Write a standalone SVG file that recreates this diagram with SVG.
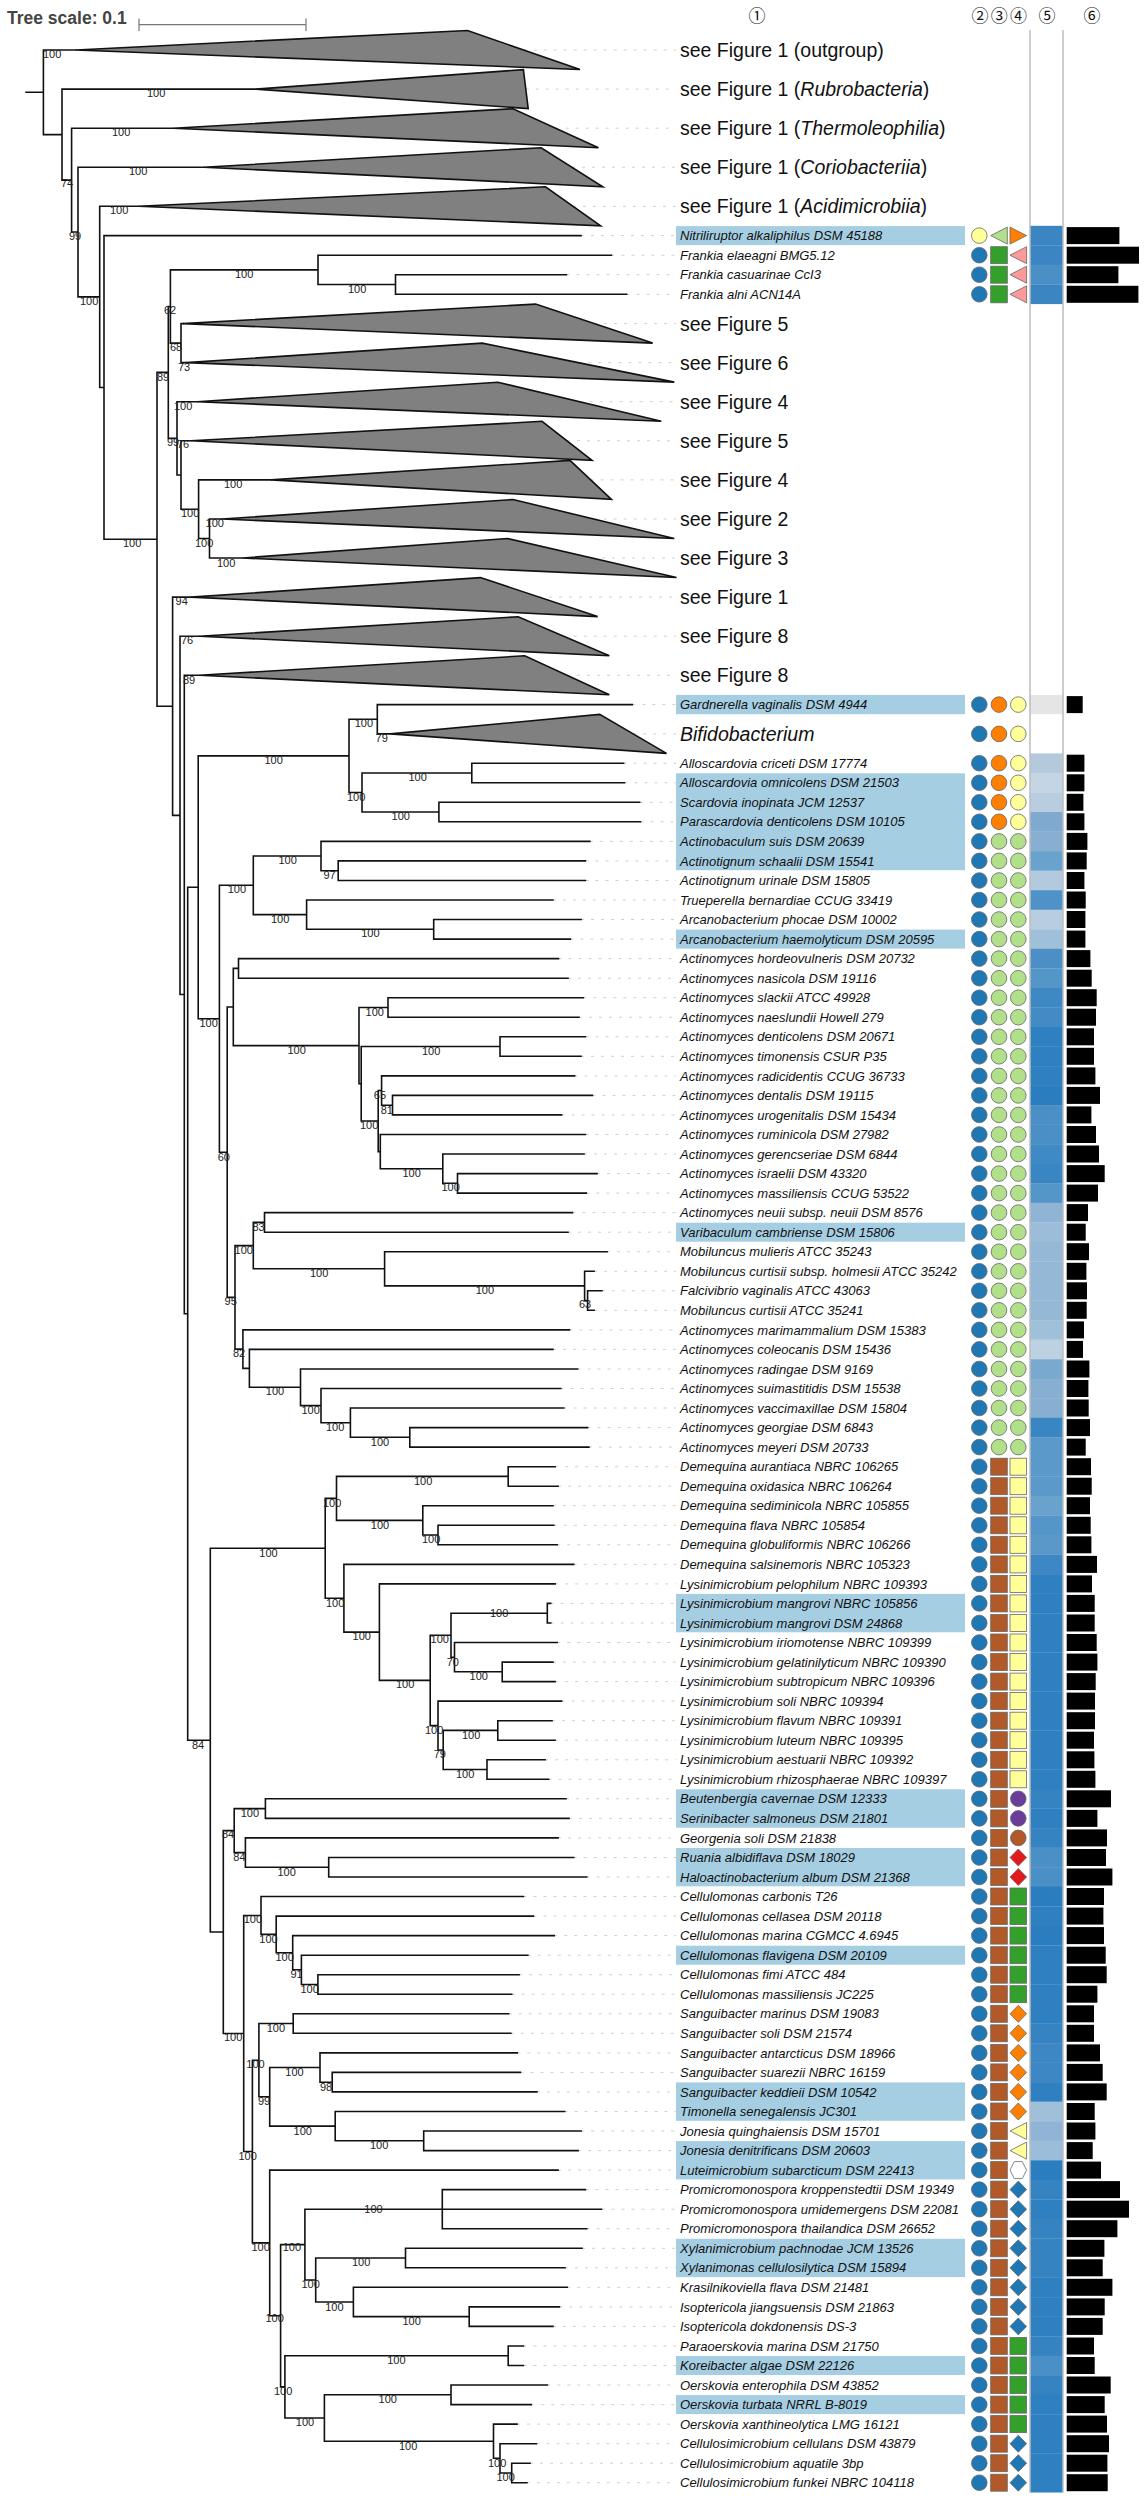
<svg xmlns="http://www.w3.org/2000/svg" width="1146" height="2500" viewBox="0 0 1146 2500">
<style>
.br{fill:none;stroke:#111;stroke-width:1.6;stroke-linecap:square}
.ld{fill:none;stroke:#cfcfcf;stroke-width:1;stroke-dasharray:3 7}
.tri{fill:#808080;stroke:#111;stroke-width:1.6}
.bs{font-family:"Liberation Sans",Arial,sans-serif;font-size:11px;fill:#222}
.lb{font-family:"Liberation Sans",Arial,sans-serif;font-size:13px;font-style:italic;fill:#111}
.big{font-family:"Liberation Sans",Arial,sans-serif;font-size:19.5px;fill:#111}
.hd{font-family:"Noto Sans CJK JP","DejaVu Sans",sans-serif;font-size:17px;fill:#111;text-anchor:middle}
.hl{fill:#a6cee3}
.bar{fill:#000}
.sym{stroke:#666;stroke-width:.8}
.sep{stroke:#bdbdbd;stroke-width:1.5}
</style>
<defs>
<circle id="cb" class="sym" r="7.8" fill="#1f78b4"/>
<circle id="co" class="sym" r="7.8" fill="#ff7f00"/>
<circle id="cy" class="sym" r="7.8" fill="#ffff99"/>
<circle id="cg" class="sym" r="7.8" fill="#b2df8a"/>
<circle id="cp" class="sym" r="7.8" fill="#6a3d9a"/>
<circle id="cbr" class="sym" r="7.8" fill="#b15928"/>
<rect id="sqbr" class="sym" x="-8.3" y="-8.5" width="16.6" height="17" fill="#b15928"/>
<rect id="sqy" class="sym" x="-8.3" y="-8.5" width="16.6" height="17" fill="#ffff99"/>
<rect id="sqg" class="sym" x="-8.3" y="-8.5" width="16.6" height="17" fill="#33a02c"/>
<polygon id="dr" class="sym" points="0,-8.5 8.3,0 0,8.5 -8.3,0" fill="#e31a1c"/>
<polygon id="do" class="sym" points="0,-8.5 8.3,0 0,8.5 -8.3,0" fill="#ff7f00"/>
<polygon id="db" class="sym" points="0,-8.5 8.3,0 0,8.5 -8.3,0" fill="#1f78b4"/>
<polygon id="tly" class="sym" points="-8.3,0 8.3,-8.5 8.3,8.5" fill="#ffff99"/>
<polygon id="tlg" class="sym" points="-8.3,0 8.3,-8.5 8.3,8.5" fill="#b2df8a"/>
<polygon id="tlp" class="sym" points="-8.3,0 8.3,-8.5 8.3,8.5" fill="#fb9a99"/>
<polygon id="tro" class="sym" points="-8.3,-8.5 8.3,0 -8.3,8.5" fill="#ff7f00"/>
<polygon id="hex" class="sym" points="-8.3,0 -4,-8.5 4,-8.5 8.3,0 4,8.5 -4,8.5" fill="#fff"/>
</defs>
<rect width="1146" height="2500" fill="#fff"/>

<g id="scale">
<text x="7" y="24" font-family="Liberation Sans, Arial, sans-serif" font-size="17.5" font-weight="bold" fill="#444">Tree scale: 0.1</text>
<path d="M139,18.5V31M139,24.7H306M306,18.5V31" stroke="#777" stroke-width="1.2" fill="none"/>
</g>

<g id="headers">
<text class="hd" x="757" y="22">①</text>
<text class="hd" x="980" y="22">②</text>
<text class="hd" x="999.3" y="22">③</text>
<text class="hd" x="1018.5" y="22">④</text>
<text class="hd" x="1047" y="22">⑤</text>
<text class="hd" x="1092" y="22">⑥</text>
</g>

<g id="highlights">
<rect class="hl" x="676" y="226.1" width="289" height="19"/>
<rect class="hl" x="676" y="694.9" width="289" height="19.3"/>
<rect class="hl" x="676" y="773.3" width="289" height="96.9"/>
<rect class="hl" x="676" y="929.6" width="289" height="19"/>
<rect class="hl" x="676" y="1222.7" width="289" height="19"/>
<rect class="hl" x="676" y="1593.9" width="289" height="38.4"/>
<rect class="hl" x="676" y="1789.3" width="289" height="38.4"/>
<rect class="hl" x="676" y="1848" width="289" height="38.3"/>
<rect class="hl" x="676" y="1945.7" width="289" height="19"/>
<rect class="hl" x="676" y="2082.4" width="289" height="38.4"/>
<rect class="hl" x="676" y="2141.1" width="289" height="38.3"/>
<rect class="hl" x="676" y="2238.8" width="289" height="38.3"/>
<rect class="hl" x="676" y="2356" width="289" height="19"/>
<rect class="hl" x="676" y="2395.1" width="289" height="19"/>
</g>

<g id="connectors">
<path class="ld" d="M523.8,50H676M525.8,89.1H676M555.7,128.2H676M572,167.2H676M573,206.3H676M581,235.6H676M611.4,255.2H676M566.4,274.7H676M626.6,294.3H676M594.1,323.6H676M578.3,362.6H676M579.6,401.7H676M567,440.8H676M590.7,479.9H676M593.7,519H676M592,558H676M539,597.1H676M563.8,636.2H676M567,675.3H676M632.3,704.6H676M633.1,733.9H676
M623.6,763.2H676M624.5,782.8H676M639.6,802.3H676M640.5,821.8H676M589.8,841.4H676M585.4,860.9H676M585.4,880.5H676M552.9,900H676M581.1,919.5H676M570.3,939.1H676M558.5,958.6H676M568,978.2H676M583.3,997.7H676M579,1017.2H676M585.4,1036.8H676M581,1056.3H676M574.6,1075.9H676M592.4,1095.4H676M561.6,1114.9H676M585.4,1134.5H676M584,1154H676M597,1173.6H676M586.3,1193.1H676M572.4,1212.6H676M568,1232.2H676M607.1,1251.7H676M594.1,1271.3H676M601.9,1290.8H676M594.1,1310.3H676M569.4,1329.9H676M552.9,1349.4H676M577.6,1369H676M560.7,1388.5H676M563.7,1408H676M587.6,1427.6H676M588.9,1447.1H676
M555.1,1466.7H676M558.1,1486.2H676M552.9,1505.7H676M553.8,1525.3H676M557.2,1544.8H676M573.7,1564.4H676M555.1,1583.9H676M550.7,1603.4H676M550.7,1623H676M557.2,1642.5H676M552.9,1662.1H676M555.1,1681.6H676M561.6,1701.1H676M552,1720.7H676M555.1,1740.2H676M545.1,1759.8H676M548.6,1779.3H676M566,1798.8H676M569,1818.4H676M558.1,1837.9H676M573.7,1857.5H676M586.7,1877H676
M523.4,1896.5H676M533.4,1916.1H676M554.2,1935.6H676M527.8,1955.2H676M519.1,1974.7H676M511.7,1994.2H676M508.7,2013.8H676M510.8,2033.3H676M517.3,2052.9H676M520.4,2072.4H676M536.9,2091.9H676M564.6,2111.5H676M581.1,2131H676M578.1,2150.6H676M558.1,2170.1H676M585.4,2189.6H676M601.5,2209.2H676M586.7,2228.7H676M582,2248.3H676M565,2267.8H676M567.2,2287.3H676M559.4,2306.9H676M552.9,2326.4H676M523.4,2346H676M523.4,2365.5H676M547.3,2385H676M531.2,2404.6H676M517,2424.1H676M536.4,2443.7H676M530,2463.2H676M526.9,2482.7H676"/>
<path class="br" d="M26,92.3H43.4M43.4,50V134.6M43.4,50H75.9M43.4,134.6H62
M62,89.1V180.1M62,89.1H255.9M62,180.1H71.6
M71.6,128.2V232.05M71.6,128.2H173.5M71.6,232.05H78
M78,167.2V296.9M78,167.2H203.8M78,296.9H99.7
M99.7,206.3V387.45M99.7,206.3H138.8M99.7,387.45H104
M104,235.6V539.3M104,235.6H581M104,539.3H157
M157,372.4V706.2M157,372.4H168.3M157,706.2H172.6
M168.3,306.5V438.35M168.3,306.5H170.4M168.3,438.35H177
M170.4,269.85V343.1M170.4,269.85H318M170.4,343.1H181
M318,255.2V284.5M318,255.2H611.4M318,284.5H395.5
M395.5,274.7V294.3M395.5,274.7H566.4M395.5,294.3H626.6
M181,323.6V362.6M181,323.6H183M181,362.6H186.5
M177,401.7V475M177,401.7H197.3M177,475H181
M181,440.8V509.2M181,440.8H190.8M181,509.2H198.6
M198.6,479.9V538.5M198.6,479.9H271M198.6,538.5H209.5
M209.5,519V558M209.5,519H222M209.5,558H242.8
M172.6,597.1V815.35M172.6,597.1H190.8M172.6,815.35H180
M180,636.2V994.5M180,636.2H199.5M180,994.5H184.3
M184.3,675.3V1313.75M184.3,675.3H199.5M184.3,1313.75H187.7
M187.7,887.3V1740.2M187.7,887.3H198.2M187.7,1740.2H210.3
M198.2,755.9V1018.75M198.2,755.9H349M198.2,1018.75H219.4
M349,719.25V792.5M349,719.25H377.3M349,792.5H362
M377.3,704.6V733.9M377.3,704.6H632.3M377.3,733.9H390.3
M362,773V812.06M362,773H471.8M362,812.06H438.9
M471.8,763.2V782.8M471.8,763.2H623.6M471.8,782.8H624.5
M438.9,802.3V821.8M438.9,802.3H639.6M438.9,821.8H640.5
M219.4,885.3V1152.2M219.4,885.3H253.3M219.4,1152.2H227.2
M253.3,856V914.65M253.3,856H321M253.3,914.65H306.6
M321,841.4V870.7M321,841.4H589.8M321,870.7H338.2
M338.2,860.9V880.5M338.2,860.9H585.4M338.2,880.5H585.4
M306.6,900V929.3M306.6,900H552.9M306.6,929.3H433.7
M433.7,919.5V939.1M433.7,919.5H581.1M433.7,939.1H570.3
M227.2,1007V1297.35M227.2,1007H233.3M227.2,1297.35H235
M233.3,968.4V1045.6M233.3,968.4H238.5M233.3,1045.6H359
M238.5,958.6V978.2M238.5,958.6H558.5M238.5,978.2H568
M359,1007.5V1083.8M359,1007.5H388M359,1083.8H361.2
M388,997.7V1017.2M388,997.7H583.3M388,1017.2H579
M361.2,1046.5V1121M361.2,1046.5H500M361.2,1121H378.2
M500,1036.8V1056.3M500,1036.8H585.4M500,1056.3H581
M378.2,1090.5V1151.6M378.2,1090.5H381.6M378.2,1151.6H380.3
M381.6,1075.9V1105.2M381.6,1075.9H574.6M381.6,1105.2H392.5
M392.5,1095.4V1114.9M392.5,1095.4H592.4M392.5,1114.9H561.6
M380.3,1134.5V1168.7M380.3,1134.5H585.4M380.3,1168.7H442.8
M442.8,1154V1183.3M442.8,1154H584M442.8,1183.3H457.5
M457.5,1173.6V1193.1M457.5,1173.6H597M457.5,1193.1H586.3
M235,1245.6V1349.1M235,1245.6H253.3M235,1349.1H242.9
M253.3,1222.4V1268.8M253.3,1222.4H264.5M253.3,1268.8H384.6
M264.5,1212.6V1232.2M264.5,1212.6H572.4M264.5,1232.2H568
M384.6,1251.7V1285.9M384.6,1251.7H607.1M384.6,1285.9H584.6
M584.6,1271.3V1300.6M584.6,1271.3H594.1M584.6,1300.6H587.6
M587.6,1290.8V1310.3M587.6,1290.8H601.9M587.6,1310.3H594.1
M242.9,1329.9V1368.4M242.9,1329.9H569.4M242.9,1368.4H249.4
M249.4,1349.4V1387.3M249.4,1349.4H552.9M249.4,1387.3H300.5
M300.5,1369V1405.6M300.5,1369H577.6M300.5,1405.6H321
M321,1388.5V1422.7M321,1388.5H560.7M321,1422.7H350.4
M350.4,1408V1437.3M350.4,1408H563.7M350.4,1437.3H409.8
M409.8,1427.6V1447.1M409.8,1427.6H587.6M409.8,1447.1H588.9
M210.3,1548.3V1932.05M210.3,1548.3H325.2M210.3,1932.05H223.3
M325.2,1498.4V1598.2M325.2,1498.4H336.5M325.2,1598.2H343.9
M336.5,1476.4V1520.4M336.5,1476.4H508.2M336.5,1520.4H422.8
M508.2,1466.7V1486.2M508.2,1466.7H555.1M508.2,1486.2H558.1
M422.8,1505.7V1535M422.8,1505.7H552.9M422.8,1535H438
M438,1525.3V1544.8M438,1525.3H553.8M438,1544.8H557.2
M343.9,1564.4V1632.1M343.9,1564.4H573.7M343.9,1632.1H379.4
M379.4,1583.9V1680.4M379.4,1583.9H555.1M379.4,1680.4H430.2
M430.2,1635.2V1725.6M430.2,1635.2H451M430.2,1725.6H438
M451,1613.2V1657.2M451,1613.2H547.3M451,1657.2H454.5
M547.3,1603.4V1623M547.3,1603.4H550.7M547.3,1623H550.7
M454.5,1642.5V1671.8M454.5,1642.5H557.2M454.5,1671.8H502.2
M502.2,1662.1V1681.6M502.2,1662.1H552.9M502.2,1681.6H555.1
M438,1701.1V1750M438,1701.1H561.6M438,1750H443.2
M443.2,1730.4V1769.5M443.2,1730.4H497.8M443.2,1769.5H487
M497.8,1720.7V1740.2M497.8,1720.7H552M497.8,1740.2H555.1
M487,1759.8V1779.3M487,1759.8H545.1M487,1779.3H548.6
M223.3,1830.6V2033.5M223.3,1830.6H234.2M223.3,2033.5H243.7
M234.2,1808.6V1852.6M234.2,1808.6H265.4M234.2,1852.6H245.4
M265.4,1798.8V1818.4M265.4,1798.8H566M265.4,1818.4H569
M245.4,1837.9V1867.2M245.4,1837.9H558.1M245.4,1867.2H328.7
M328.7,1857.5V1877M328.7,1857.5H573.7M328.7,1877H586.7
M243.7,1915.45V2151.55M243.7,1915.45H261M243.7,2151.55H252.4
M261,1896.5V1934.4M261,1896.5H523.4M261,1934.4H276.2
M276.2,1916.1V1952.7M276.2,1916.1H533.4M276.2,1952.7H292.7
M292.7,1935.6V1969.8M292.7,1935.6H554.2M292.7,1969.8H301.4
M301.4,1955.2V1984.5M301.4,1955.2H527.8M301.4,1984.5H317.9
M317.9,1974.7V1994.2M317.9,1974.7H519.1M317.9,1994.2H511.7
M252.4,2060.2V2242.9M252.4,2060.2H258.9M252.4,2242.9H269.7
M258.9,2023.5V2096.8M258.9,2023.5H293.2M258.9,2096.8H269.7
M293.2,2013.8V2033.3M293.2,2013.8H508.7M293.2,2033.3H510.8
M269.7,2067.5V2126.1M269.7,2067.5H320M269.7,2126.1H335.2
M320,2052.9V2082.2M320,2052.9H517.3M320,2082.2H332.2
M332.2,2072.4V2091.9M332.2,2072.4H520.4M332.2,2091.9H536.9
M335.2,2111.5V2140.8M335.2,2111.5H564.6M335.2,2140.8H423.7
M423.7,2131V2150.6M423.7,2131H581.1M423.7,2150.6H578.1
M269.7,2170.1V2315.7M269.7,2170.1H558.1M269.7,2315.7H280.6
M280.6,2244.6V2386.9M280.6,2244.6H304.9M280.6,2386.9H284.9
M304.9,2209.2V2280M304.9,2209.2H442.3M304.9,2280H315.7
M442.3,2189.6V2228.7M442.3,2189.6H585.4M442.3,2209.2H601.5M442.3,2228.7H586.7
M315.7,2258V2302M315.7,2258H405.5M315.7,2302H353.4
M405.5,2248.3V2267.8M405.5,2248.3H582M405.5,2267.8H565
M353.4,2287.3V2316.6M353.4,2287.3H567.2M353.4,2316.6H469.2
M469.2,2306.9V2326.4M469.2,2306.9H559.4M469.2,2326.4H552.9
M284.9,2355.7V2418M284.9,2355.7H508.2M284.9,2418H324.4
M508.2,2346V2365.5M508.2,2346H523.4M508.2,2365.5H523.4
M324.4,2394.8V2441.2M324.4,2394.8H451M324.4,2441.2H493.5
M451,2385V2404.6M451,2385H547.3M451,2404.6H531.2
M493.5,2424.1V2458.3M493.5,2424.1H517M493.5,2458.3H500
M500,2443.7V2473M500,2443.7H536.4M500,2473H511.7
M511.7,2463.2V2482.7M511.7,2463.2H530M511.7,2482.7H526.9"/>
</g>

<g id="bootstrap" class="bs">
<text x="43" y="58">100</text><text x="147" y="97">100</text><text x="61" y="187">74</text><text x="112" y="136">100</text>
<text x="69" y="240">99</text><text x="129" y="175">100</text><text x="80" y="305">100</text><text x="110" y="214">100</text>
<text x="235" y="278">100</text><text x="348" y="292.7">100</text><text x="164" y="314">62</text><text x="170" y="350.7">68</text>
<text x="178" y="371">73</text><text x="157" y="380.7">89</text><text x="174" y="410">100</text><text x="167" y="446">99</text>
<text x="177" y="448">76</text><text x="224" y="488">100</text><text x="181" y="517">100</text><text x="205.6" y="527.3">100</text>
<text x="195" y="546.7">100</text><text x="217" y="566.7">100</text><text x="123" y="547">100</text><text x="175.6" y="605.3">94</text>
<text x="181" y="644">76</text><text x="183" y="684">89</text><text x="264.5" y="764">100</text><text x="354.7" y="727.3">100</text>
<text x="375.6" y="742">79</text><text x="347" y="800.7">100</text><text x="408.5" y="781">100</text><text x="391.6" y="820.3">100</text>
<text x="278.4" y="864">100</text><text x="323.5" y="878.7">97</text><text x="227.7" y="893.3">100</text><text x="271" y="922.7">100</text>
<text x="361.2" y="937.3">100</text><text x="199.5" y="1026.7">100</text><text x="217.7" y="1160.7">60</text><text x="287.5" y="1054">100</text>
<text x="365.6" y="1015.7">100</text><text x="422" y="1054.7">100</text><text x="360" y="1129">100</text><text x="373.8" y="1099">65</text>
<text x="380.7" y="1113.7">81</text><text x="402.4" y="1176.7">100</text><text x="441.5" y="1191.3">100</text><text x="252.4" y="1230.7">83</text>
<text x="234.6" y="1254">100</text><text x="310" y="1276.7">100</text><text x="475.7" y="1294.3">100</text><text x="579" y="1308">63</text>
<text x="224.6" y="1305">95</text><text x="232.9" y="1357.3">82</text><text x="265.8" y="1395.3">100</text><text x="301.4" y="1414">100</text>
<text x="326" y="1431">100</text><text x="370.8" y="1445.7">100</text><text x="414" y="1484.7">100</text><text x="323" y="1506.7">100</text>
<text x="370.8" y="1528.7">100</text><text x="422" y="1543.3">100</text><text x="259.3" y="1557">100</text><text x="326" y="1606.7">100</text>
<text x="352.6" y="1640.3">100</text><text x="490" y="1616.7">100</text><text x="430.6" y="1643.3">100</text><text x="446.7" y="1665.7">70</text>
<text x="469.6" y="1680">100</text><text x="396" y="1688.3">100</text><text x="425" y="1734">100</text><text x="462" y="1739">100</text>
<text x="433.7" y="1758.3">79</text><text x="456" y="1778">100</text><text x="192" y="1748.7">84</text><text x="240.7" y="1817">100</text>
<text x="222" y="1838.3">84</text><text x="233.3" y="1861">84</text><text x="277.5" y="1875.7">100</text><text x="243.7" y="1923.3">100</text>
<text x="259.3" y="1942.7">100</text><text x="275.4" y="1961">100</text><text x="290.5" y="1978.3">91</text><text x="300.5" y="1993.3">100</text>
<text x="224" y="2041.3">100</text><text x="266.7" y="2031.7">100</text><text x="246.3" y="2068.3">100</text><text x="258" y="2105">99</text>
<text x="285.3" y="2075.7">100</text><text x="320" y="2090.7">98</text><text x="293.6" y="2134.7">100</text><text x="370" y="2149.3">100</text>
<text x="238.5" y="2159.7">100</text><text x="364.3" y="2212.7">100</text><text x="251.5" y="2250.7">100</text><text x="282.7" y="2250.7">100</text>
<text x="301.4" y="2288.3">100</text><text x="352" y="2266.3">100</text><text x="325.2" y="2310.7">100</text><text x="402.4" y="2325">100</text>
<text x="265.4" y="2322.3">100</text><text x="274" y="2395.3">100</text><text x="387.2" y="2364">100</text><text x="295.8" y="2426.3">100</text>
<text x="378.6" y="2403.3">100</text><text x="399" y="2449.7">100</text><text x="487.9" y="2466.7">100</text><text x="496.5" y="2481.3">100</text>
</g>

<g id="collapsed">
<g id="c-outgroup"><polygon class="tri" points="75.9,50 467.5,30.5 580,69.5"/><text class="big" x="680" y="57">see Figure 1 (outgroup)</text></g>
<g id="c-rubrobacteria"><polygon class="tri" points="255.9,89.1 523.4,69.6 528.2,108.6"/><text class="big" x="680" y="96.1">see Figure 1 (<tspan font-style="italic">Rubrobacteria</tspan>)</text></g>
<g id="c-thermoleophilia"><polygon class="tri" points="173.5,128.2 513,108.7 598.4,147.7"/><text class="big" x="680" y="135.2">see Figure 1 (<tspan font-style="italic">Thermoleophilia</tspan>)</text></g>
<g id="c-coriobacteriia"><polygon class="tri" points="203.8,167.2 541.2,147.7 602.8,186.7"/><text class="big" x="680" y="174.2">see Figure 1 (<tspan font-style="italic">Coriobacteriia</tspan>)</text></g>
<g id="c-acidimicrobiia"><polygon class="tri" points="138.8,206.3 545.5,186.8 600.6,225.8"/><text class="big" x="680" y="213.3">see Figure 1 (<tspan font-style="italic">Acidimicrobiia</tspan>)</text></g>
<g id="c-fig5a"><polygon class="tri" points="183,323.6 535.6,304.1 652.6,343.1"/><text class="big" x="680" y="330.6">see Figure 5</text></g>
<g id="c-fig6"><polygon class="tri" points="186.5,362.6 482.2,343.1 674.3,382.1"/><text class="big" x="680" y="369.6">see Figure 6</text></g>
<g id="c-fig4a"><polygon class="tri" points="197.3,401.7 497.8,382.2 661.3,421.2"/><text class="big" x="680" y="408.7">see Figure 4</text></g>
<g id="c-fig5b"><polygon class="tri" points="190.8,440.8 542,421.3 592,460.3"/><text class="big" x="680" y="447.8">see Figure 5</text></g>
<g id="c-fig4b"><polygon class="tri" points="271,479.9 570,460.4 611.4,499.4"/><text class="big" x="680" y="486.9">see Figure 4</text></g>
<g id="c-fig2"><polygon class="tri" points="222,519 513,499.5 674.3,538.5"/><text class="big" x="680" y="526">see Figure 2</text></g>
<g id="c-fig3"><polygon class="tri" points="242.8,558 507.4,538.5 676.5,577.5"/><text class="big" x="680" y="565">see Figure 3</text></g>
<g id="c-fig1"><polygon class="tri" points="190.8,597.1 480.5,577.6 597.6,616.6"/><text class="big" x="680" y="604.1">see Figure 1</text></g>
<g id="c-fig8a"><polygon class="tri" points="199.5,636.2 518.2,616.7 609.3,655.7"/><text class="big" x="680" y="643.2">see Figure 8</text></g>
<g id="c-fig8b"><polygon class="tri" points="199.5,675.3 524.7,655.8 609.3,694.8"/><text class="big" x="680" y="682.3">see Figure 8</text></g>
<g id="c-bifidobacterium"><polygon class="tri" points="390.3,733.9 599.7,714.4 666.5,753.4"/><text class="big" x="680" y="740.9" font-style="italic">Bifidobacterium</text><use href="#cb" x="979.3" y="733.9"/><use href="#co" x="999" y="733.9"/><use href="#cy" x="1018.3" y="733.9"/></g>
</g>

<g id="leaves">
<g id="n-nitriliruptor" transform="translate(0,235.6)"><text class="lb" x="680" y="4.6">Nitriliruptor alkaliphilus DSM 45188</text><use href="#cy" x="979.3"/><use href="#tlg" x="999"/><use href="#tro" x="1018.3"/><rect x="1030" y="-9.8" width="33" height="19.8" fill="#3b85c2"/><rect class="bar" x="1066.7" y="-8.5" width="52.7" height="17"/></g>
<g id="n-frankia-elaeagni" transform="translate(0,255.2)"><text class="lb" x="680" y="4.6">Frankia elaeagni BMG5.12</text><use href="#cb" x="979.3"/><use href="#sqg" x="999"/><use href="#tlp" x="1018.3"/><rect x="1030" y="-9.8" width="33" height="19.8" fill="#3b85c2"/><rect class="bar" x="1066.7" y="-8.5" width="72.3" height="17"/></g>
<g id="n-frankia-casuarinae" transform="translate(0,274.7)"><text class="lb" x="680" y="4.6">Frankia casuarinae CcI3</text><use href="#cb" x="979.3"/><use href="#sqg" x="999"/><use href="#tlp" x="1018.3"/><rect x="1030" y="-9.8" width="33" height="19.8" fill="#4a8fc6"/><rect class="bar" x="1066.7" y="-8.5" width="51.7" height="17"/></g>
<g id="n-frankia-alni" transform="translate(0,294.3)"><text class="lb" x="680" y="4.6">Frankia alni ACN14A</text><use href="#cb" x="979.3"/><use href="#sqg" x="999"/><use href="#tlp" x="1018.3"/><rect x="1030" y="-9.8" width="33" height="19.6" fill="#3b85c2"/><rect class="bar" x="1066.7" y="-8.5" width="71.7" height="17"/></g>
<g id="n-gardnerella" transform="translate(0,704.6)"><text class="lb" x="680" y="4.6">Gardnerella vaginalis DSM 4944</text><use href="#cb" x="979.3"/><use href="#co" x="999"/><use href="#cy" x="1018.3"/><rect x="1030" y="-9.6" width="33" height="19.2" fill="#e5e5e5"/><rect class="bar" x="1066.7" y="-8.5" width="16" height="17"/></g>

<g id="n1" transform="translate(0,763.2)"><text class="lb" x="680" y="4.6">Alloscardovia criceti DSM 17774</text><use href="#cb" x="979.3"/><use href="#co" x="999"/><use href="#cy" x="1018.3"/><rect x="1030" y="-9.8" width="33" height="19.8" fill="#b4cadc"/><rect class="bar" x="1066.7" y="-8.5" width="17.7" height="17"/></g>
<g id="n2" transform="translate(0,782.8)"><text class="lb" x="680" y="4.6">Alloscardovia omnicolens DSM 21503</text><use href="#cb" x="979.3"/><use href="#co" x="999"/><use href="#cy" x="1018.3"/><rect x="1030" y="-9.8" width="33" height="19.8" fill="#c6d5e3"/><rect class="bar" x="1066.7" y="-8.5" width="17.7" height="17"/></g>
<g id="n3" transform="translate(0,802.3)"><text class="lb" x="680" y="4.6">Scardovia inopinata JCM 12537</text><use href="#cb" x="979.3"/><use href="#co" x="999"/><use href="#cy" x="1018.3"/><rect x="1030" y="-9.8" width="33" height="19.8" fill="#b8cde0"/><rect class="bar" x="1066.7" y="-8.5" width="16.7" height="17"/></g>
<g id="n4" transform="translate(0,821.8)"><text class="lb" x="680" y="4.6">Parascardovia denticolens DSM 10105</text><use href="#cb" x="979.3"/><use href="#co" x="999"/><use href="#cy" x="1018.3"/><rect x="1030" y="-9.8" width="33" height="19.8" fill="#7fa9cf"/><rect class="bar" x="1066.7" y="-8.5" width="17.7" height="17"/></g>
<g id="n5" transform="translate(0,841.4)"><text class="lb" x="680" y="4.6">Actinobaculum suis DSM 20639</text><use href="#cb" x="979.3"/><use href="#cg" x="999"/><use href="#cg" x="1018.3"/><rect x="1030" y="-9.8" width="33" height="19.8" fill="#88afd2"/><rect class="bar" x="1066.7" y="-8.5" width="20.7" height="17"/></g>
<g id="n6" transform="translate(0,860.9)"><text class="lb" x="680" y="4.6">Actinotignum schaalii DSM 15541</text><use href="#cb" x="979.3"/><use href="#cg" x="999"/><use href="#cg" x="1018.3"/><rect x="1030" y="-9.8" width="33" height="19.8" fill="#6aa2ce"/><rect class="bar" x="1066.7" y="-8.5" width="20" height="17"/></g>
<g id="n7" transform="translate(0,880.5)"><text class="lb" x="680" y="4.6">Actinotignum urinale DSM 15805</text><use href="#cb" x="979.3"/><use href="#cg" x="999"/><use href="#cg" x="1018.3"/><rect x="1030" y="-9.8" width="33" height="19.8" fill="#b3cade"/><rect class="bar" x="1066.7" y="-8.5" width="17.7" height="17"/></g>
<g id="n8" transform="translate(0,900)"><text class="lb" x="680" y="4.6">Trueperella bernardiae CCUG 33419</text><use href="#cb" x="979.3"/><use href="#cg" x="999"/><use href="#cg" x="1018.3"/><rect x="1030" y="-9.8" width="33" height="19.8" fill="#4f92c7"/><rect class="bar" x="1066.7" y="-8.5" width="19" height="17"/></g>
<g id="n9" transform="translate(0,919.5)"><text class="lb" x="680" y="4.6">Arcanobacterium phocae DSM 10002</text><use href="#cb" x="979.3"/><use href="#cg" x="999"/><use href="#cg" x="1018.3"/><rect x="1030" y="-9.8" width="33" height="19.8" fill="#b8cee0"/><rect class="bar" x="1066.7" y="-8.5" width="18.7" height="17"/></g>
<g id="n10" transform="translate(0,939.1)"><text class="lb" x="680" y="4.6">Arcanobacterium haemolyticum DSM 20595</text><use href="#cb" x="979.3"/><use href="#cg" x="999"/><use href="#cg" x="1018.3"/><rect x="1030" y="-9.8" width="33" height="19.8" fill="#a0c0da"/><rect class="bar" x="1066.7" y="-8.5" width="18.7" height="17"/></g>
<g id="n11" transform="translate(0,958.6)"><text class="lb" x="680" y="4.6">Actinomyces hordeovulneris DSM 20732</text><use href="#cb" x="979.3"/><use href="#cg" x="999"/><use href="#cg" x="1018.3"/><rect x="1030" y="-9.8" width="33" height="19.8" fill="#4b8fc6"/><rect class="bar" x="1066.7" y="-8.5" width="23.7" height="17"/></g>
<g id="n12" transform="translate(0,978.2)"><text class="lb" x="680" y="4.6">Actinomyces nasicola DSM 19116</text><use href="#cb" x="979.3"/><use href="#cg" x="999"/><use href="#cg" x="1018.3"/><rect x="1030" y="-9.8" width="33" height="19.8" fill="#5596c9"/><rect class="bar" x="1066.7" y="-8.5" width="25" height="17"/></g>
<g id="n13" transform="translate(0,997.7)"><text class="lb" x="680" y="4.6">Actinomyces slackii ATCC 49928</text><use href="#cb" x="979.3"/><use href="#cg" x="999"/><use href="#cg" x="1018.3"/><rect x="1030" y="-9.8" width="33" height="19.8" fill="#3e89c4"/><rect class="bar" x="1066.7" y="-8.5" width="30" height="17"/></g>
<g id="n14" transform="translate(0,1017.2)"><text class="lb" x="680" y="4.6">Actinomyces naeslundii Howell 279</text><use href="#cb" x="979.3"/><use href="#cg" x="999"/><use href="#cg" x="1018.3"/><rect x="1030" y="-9.8" width="33" height="19.8" fill="#438bc5"/><rect class="bar" x="1066.7" y="-8.5" width="29.3" height="17"/></g>
<g id="n15" transform="translate(0,1036.8)"><text class="lb" x="680" y="4.6">Actinomyces denticolens DSM 20671</text><use href="#cb" x="979.3"/><use href="#cg" x="999"/><use href="#cg" x="1018.3"/><rect x="1030" y="-9.8" width="33" height="19.8" fill="#2f80c0"/><rect class="bar" x="1066.7" y="-8.5" width="27.3" height="17"/></g>
<g id="n16" transform="translate(0,1056.3)"><text class="lb" x="680" y="4.6">Actinomyces timonensis CSUR P35</text><use href="#cb" x="979.3"/><use href="#cg" x="999"/><use href="#cg" x="1018.3"/><rect x="1030" y="-9.8" width="33" height="19.8" fill="#2f80c0"/><rect class="bar" x="1066.7" y="-8.5" width="27.3" height="17"/></g>
<g id="n17" transform="translate(0,1075.9)"><text class="lb" x="680" y="4.6">Actinomyces radicidentis CCUG 36733</text><use href="#cb" x="979.3"/><use href="#cg" x="999"/><use href="#cg" x="1018.3"/><rect x="1030" y="-9.8" width="33" height="19.8" fill="#2f80c0"/><rect class="bar" x="1066.7" y="-8.5" width="28.7" height="17"/></g>
<g id="n18" transform="translate(0,1095.4)"><text class="lb" x="680" y="4.6">Actinomyces dentalis DSM 19115</text><use href="#cb" x="979.3"/><use href="#cg" x="999"/><use href="#cg" x="1018.3"/><rect x="1030" y="-9.8" width="33" height="19.8" fill="#2a7dbe"/><rect class="bar" x="1066.7" y="-8.5" width="33.3" height="17"/></g>
<g id="n19" transform="translate(0,1114.9)"><text class="lb" x="680" y="4.6">Actinomyces urogenitalis DSM 15434</text><use href="#cb" x="979.3"/><use href="#cg" x="999"/><use href="#cg" x="1018.3"/><rect x="1030" y="-9.8" width="33" height="19.8" fill="#4a8fc6"/><rect class="bar" x="1066.7" y="-8.5" width="24.7" height="17"/></g>
<g id="n20" transform="translate(0,1134.5)"><text class="lb" x="680" y="4.6">Actinomyces ruminicola DSM 27982</text><use href="#cb" x="979.3"/><use href="#cg" x="999"/><use href="#cg" x="1018.3"/><rect x="1030" y="-9.8" width="33" height="19.8" fill="#4a8fc6"/><rect class="bar" x="1066.7" y="-8.5" width="29.3" height="17"/></g>
<g id="n21" transform="translate(0,1154)"><text class="lb" x="680" y="4.6">Actinomyces gerencseriae DSM 6844</text><use href="#cb" x="979.3"/><use href="#cg" x="999"/><use href="#cg" x="1018.3"/><rect x="1030" y="-9.8" width="33" height="19.8" fill="#3f89c4"/><rect class="bar" x="1066.7" y="-8.5" width="32.3" height="17"/></g>
<g id="n22" transform="translate(0,1173.6)"><text class="lb" x="680" y="4.6">Actinomyces israelii DSM 43320</text><use href="#cb" x="979.3"/><use href="#cg" x="999"/><use href="#cg" x="1018.3"/><rect x="1030" y="-9.8" width="33" height="19.8" fill="#3a86c3"/><rect class="bar" x="1066.7" y="-8.5" width="38" height="17"/></g>
<g id="n23" transform="translate(0,1193.1)"><text class="lb" x="680" y="4.6">Actinomyces massiliensis CCUG 53522</text><use href="#cb" x="979.3"/><use href="#cg" x="999"/><use href="#cg" x="1018.3"/><rect x="1030" y="-9.8" width="33" height="19.8" fill="#5596c9"/><rect class="bar" x="1066.7" y="-8.5" width="31.3" height="17"/></g>
<g id="n24" transform="translate(0,1212.6)"><text class="lb" x="680" y="4.6">Actinomyces neuii subsp. neuii DSM 8576</text><use href="#cb" x="979.3"/><use href="#cg" x="999"/><use href="#cg" x="1018.3"/><rect x="1030" y="-9.8" width="33" height="19.8" fill="#8fb4d5"/><rect class="bar" x="1066.7" y="-8.5" width="21.3" height="17"/></g>
<g id="n25" transform="translate(0,1232.2)"><text class="lb" x="680" y="4.6">Varibaculum cambriense DSM 15806</text><use href="#cb" x="979.3"/><use href="#cg" x="999"/><use href="#cg" x="1018.3"/><rect x="1030" y="-9.8" width="33" height="19.8" fill="#9cbdd9"/><rect class="bar" x="1066.7" y="-8.5" width="19" height="17"/></g>
<g id="n26" transform="translate(0,1251.7)"><text class="lb" x="680" y="4.6">Mobiluncus mulieris ATCC 35243</text><use href="#cb" x="979.3"/><use href="#cg" x="999"/><use href="#cg" x="1018.3"/><rect x="1030" y="-9.8" width="33" height="19.8" fill="#95b8d7"/><rect class="bar" x="1066.7" y="-8.5" width="22.3" height="17"/></g>
<g id="n27" transform="translate(0,1271.3)"><text class="lb" x="680" y="4.6">Mobiluncus curtisii subsp. holmesii ATCC 35242</text><use href="#cb" x="979.3"/><use href="#cg" x="999"/><use href="#cg" x="1018.3"/><rect x="1030" y="-9.8" width="33" height="19.8" fill="#95b8d7"/><rect class="bar" x="1066.7" y="-8.5" width="19.7" height="17"/></g>
<g id="n28" transform="translate(0,1290.8)"><text class="lb" x="680" y="4.6">Falcivibrio vaginalis ATCC 43063</text><use href="#cb" x="979.3"/><use href="#cg" x="999"/><use href="#cg" x="1018.3"/><rect x="1030" y="-9.8" width="33" height="19.8" fill="#95b8d7"/><rect class="bar" x="1066.7" y="-8.5" width="20.3" height="17"/></g>
<g id="n29" transform="translate(0,1310.3)"><text class="lb" x="680" y="4.6">Mobiluncus curtisii ATCC 35241</text><use href="#cb" x="979.3"/><use href="#cg" x="999"/><use href="#cg" x="1018.3"/><rect x="1030" y="-9.8" width="33" height="19.8" fill="#95b8d7"/><rect class="bar" x="1066.7" y="-8.5" width="20" height="17"/></g>
<g id="n30" transform="translate(0,1329.9)"><text class="lb" x="680" y="4.6">Actinomyces marimammalium DSM 15383</text><use href="#cb" x="979.3"/><use href="#cg" x="999"/><use href="#cg" x="1018.3"/><rect x="1030" y="-9.8" width="33" height="19.8" fill="#a0c0da"/><rect class="bar" x="1066.7" y="-8.5" width="17.3" height="17"/></g>
<g id="n31" transform="translate(0,1349.4)"><text class="lb" x="680" y="4.6">Actinomyces coleocanis DSM 15436</text><use href="#cb" x="979.3"/><use href="#cg" x="999"/><use href="#cg" x="1018.3"/><rect x="1030" y="-9.8" width="33" height="19.8" fill="#bcd2e3"/><rect class="bar" x="1066.7" y="-8.5" width="16.3" height="17"/></g>
<g id="n32" transform="translate(0,1369)"><text class="lb" x="680" y="4.6">Actinomyces radingae DSM 9169</text><use href="#cb" x="979.3"/><use href="#cg" x="999"/><use href="#cg" x="1018.3"/><rect x="1030" y="-9.8" width="33" height="19.8" fill="#7aa9d0"/><rect class="bar" x="1066.7" y="-8.5" width="22.7" height="17"/></g>
<g id="n33" transform="translate(0,1388.5)"><text class="lb" x="680" y="4.6">Actinomyces suimastitidis DSM 15538</text><use href="#cb" x="979.3"/><use href="#cg" x="999"/><use href="#cg" x="1018.3"/><rect x="1030" y="-9.8" width="33" height="19.8" fill="#86afd2"/><rect class="bar" x="1066.7" y="-8.5" width="21.7" height="17"/></g>
<g id="n34" transform="translate(0,1408)"><text class="lb" x="680" y="4.6">Actinomyces vaccimaxillae DSM 15804</text><use href="#cb" x="979.3"/><use href="#cg" x="999"/><use href="#cg" x="1018.3"/><rect x="1030" y="-9.8" width="33" height="19.8" fill="#86afd2"/><rect class="bar" x="1066.7" y="-8.5" width="22" height="17"/></g>
<g id="n35" transform="translate(0,1427.6)"><text class="lb" x="680" y="4.6">Actinomyces georgiae DSM 6843</text><use href="#cb" x="979.3"/><use href="#cg" x="999"/><use href="#cg" x="1018.3"/><rect x="1030" y="-9.8" width="33" height="19.8" fill="#3a86c3"/><rect class="bar" x="1066.7" y="-8.5" width="23.3" height="17"/></g>
<g id="n36" transform="translate(0,1447.1)"><text class="lb" x="680" y="4.6">Actinomyces meyeri DSM 20733</text><use href="#cb" x="979.3"/><use href="#cg" x="999"/><use href="#cg" x="1018.3"/><rect x="1030" y="-9.8" width="33" height="19.8" fill="#5b99ca"/><rect class="bar" x="1066.7" y="-8.5" width="19" height="17"/></g>
<g id="n37" transform="translate(0,1466.7)"><text class="lb" x="680" y="4.6">Demequina aurantiaca NBRC 106265</text><use href="#cb" x="979.3"/><use href="#sqbr" x="999"/><use href="#sqy" x="1018.3"/><rect x="1030" y="-9.8" width="33" height="19.8" fill="#5b99ca"/><rect class="bar" x="1066.7" y="-8.5" width="24.3" height="17"/></g>
<g id="n38" transform="translate(0,1486.2)"><text class="lb" x="680" y="4.6">Demequina oxidasica NBRC 106264</text><use href="#cb" x="979.3"/><use href="#sqbr" x="999"/><use href="#sqy" x="1018.3"/><rect x="1030" y="-9.8" width="33" height="19.8" fill="#5b99ca"/><rect class="bar" x="1066.7" y="-8.5" width="25" height="17"/></g>
<g id="n39" transform="translate(0,1505.7)"><text class="lb" x="680" y="4.6">Demequina sediminicola NBRC 105855</text><use href="#cb" x="979.3"/><use href="#sqbr" x="999"/><use href="#sqy" x="1018.3"/><rect x="1030" y="-9.8" width="33" height="19.8" fill="#6aa2ce"/><rect class="bar" x="1066.7" y="-8.5" width="23.3" height="17"/></g>
<g id="n40" transform="translate(0,1525.3)"><text class="lb" x="680" y="4.6">Demequina flava NBRC 105854</text><use href="#cb" x="979.3"/><use href="#sqbr" x="999"/><use href="#sqy" x="1018.3"/><rect x="1030" y="-9.8" width="33" height="19.8" fill="#5596c9"/><rect class="bar" x="1066.7" y="-8.5" width="24" height="17"/></g>
<g id="n41" transform="translate(0,1544.8)"><text class="lb" x="680" y="4.6">Demequina globuliformis NBRC 106266</text><use href="#cb" x="979.3"/><use href="#sqbr" x="999"/><use href="#sqy" x="1018.3"/><rect x="1030" y="-9.8" width="33" height="19.8" fill="#5a98ca"/><rect class="bar" x="1066.7" y="-8.5" width="24.7" height="17"/></g>
<g id="n42" transform="translate(0,1564.4)"><text class="lb" x="680" y="4.6">Demequina salsinemoris NBRC 105323</text><use href="#cb" x="979.3"/><use href="#sqbr" x="999"/><use href="#sqy" x="1018.3"/><rect x="1030" y="-9.8" width="33" height="19.8" fill="#3d88c4"/><rect class="bar" x="1066.7" y="-8.5" width="30.3" height="17"/></g>
<g id="n43" transform="translate(0,1583.9)"><text class="lb" x="680" y="4.6">Lysinimicrobium pelophilum NBRC 109393</text><use href="#cb" x="979.3"/><use href="#sqbr" x="999"/><use href="#sqy" x="1018.3"/><rect x="1030" y="-9.8" width="33" height="19.8" fill="#2f80c0"/><rect class="bar" x="1066.7" y="-8.5" width="25.3" height="17"/></g>
<g id="n44" transform="translate(0,1603.4)"><text class="lb" x="680" y="4.6">Lysinimicrobium mangrovi NBRC 105856</text><use href="#cb" x="979.3"/><use href="#sqbr" x="999"/><use href="#sqy" x="1018.3"/><rect x="1030" y="-9.8" width="33" height="19.8" fill="#2f80c0"/><rect class="bar" x="1066.7" y="-8.5" width="28" height="17"/></g>
<g id="n45" transform="translate(0,1623)"><text class="lb" x="680" y="4.6">Lysinimicrobium mangrovi DSM 24868</text><use href="#cb" x="979.3"/><use href="#sqbr" x="999"/><use href="#sqy" x="1018.3"/><rect x="1030" y="-9.8" width="33" height="19.8" fill="#2f80c0"/><rect class="bar" x="1066.7" y="-8.5" width="28" height="17"/></g>
<g id="n46" transform="translate(0,1642.5)"><text class="lb" x="680" y="4.6">Lysinimicrobium iriomotense NBRC 109399</text><use href="#cb" x="979.3"/><use href="#sqbr" x="999"/><use href="#sqy" x="1018.3"/><rect x="1030" y="-9.8" width="33" height="19.8" fill="#2f80c0"/><rect class="bar" x="1066.7" y="-8.5" width="30" height="17"/></g>
<g id="n47" transform="translate(0,1662.1)"><text class="lb" x="680" y="4.6">Lysinimicrobium gelatinilyticum NBRC 109390</text><use href="#cb" x="979.3"/><use href="#sqbr" x="999"/><use href="#sqy" x="1018.3"/><rect x="1030" y="-9.8" width="33" height="19.8" fill="#2f80c0"/><rect class="bar" x="1066.7" y="-8.5" width="30.7" height="17"/></g>
<g id="n48" transform="translate(0,1681.6)"><text class="lb" x="680" y="4.6">Lysinimicrobium subtropicum NBRC 109396</text><use href="#cb" x="979.3"/><use href="#sqbr" x="999"/><use href="#sqy" x="1018.3"/><rect x="1030" y="-9.8" width="33" height="19.8" fill="#2f80c0"/><rect class="bar" x="1066.7" y="-8.5" width="29" height="17"/></g>
<g id="n49" transform="translate(0,1701.1)"><text class="lb" x="680" y="4.6">Lysinimicrobium soli NBRC 109394</text><use href="#cb" x="979.3"/><use href="#sqbr" x="999"/><use href="#sqy" x="1018.3"/><rect x="1030" y="-9.8" width="33" height="19.8" fill="#2f80c0"/><rect class="bar" x="1066.7" y="-8.5" width="28.3" height="17"/></g>
<g id="n50" transform="translate(0,1720.7)"><text class="lb" x="680" y="4.6">Lysinimicrobium flavum NBRC 109391</text><use href="#cb" x="979.3"/><use href="#sqbr" x="999"/><use href="#sqy" x="1018.3"/><rect x="1030" y="-9.8" width="33" height="19.8" fill="#2f80c0"/><rect class="bar" x="1066.7" y="-8.5" width="28.3" height="17"/></g>
<g id="n51" transform="translate(0,1740.2)"><text class="lb" x="680" y="4.6">Lysinimicrobium luteum NBRC 109395</text><use href="#cb" x="979.3"/><use href="#sqbr" x="999"/><use href="#sqy" x="1018.3"/><rect x="1030" y="-9.8" width="33" height="19.8" fill="#2f80c0"/><rect class="bar" x="1066.7" y="-8.5" width="27.3" height="17"/></g>
<g id="n52" transform="translate(0,1759.8)"><text class="lb" x="680" y="4.6">Lysinimicrobium aestuarii NBRC 109392</text><use href="#cb" x="979.3"/><use href="#sqbr" x="999"/><use href="#sqy" x="1018.3"/><rect x="1030" y="-9.8" width="33" height="19.8" fill="#2f80c0"/><rect class="bar" x="1066.7" y="-8.5" width="27.7" height="17"/></g>
<g id="n53" transform="translate(0,1779.3)"><text class="lb" x="680" y="4.6">Lysinimicrobium rhizosphaerae NBRC 109397</text><use href="#cb" x="979.3"/><use href="#sqbr" x="999"/><use href="#sqy" x="1018.3"/><rect x="1030" y="-9.8" width="33" height="19.8" fill="#2f80c0"/><rect class="bar" x="1066.7" y="-8.5" width="28.7" height="17"/></g>
<g id="n54" transform="translate(0,1798.8)"><text class="lb" x="680" y="4.6">Beutenbergia cavernae DSM 12333</text><use href="#cb" x="979.3"/><use href="#sqbr" x="999"/><use href="#cp" x="1018.3"/><rect x="1030" y="-9.8" width="33" height="19.8" fill="#3583c1"/><rect class="bar" x="1066.7" y="-8.5" width="44.3" height="17"/></g>
<g id="n55" transform="translate(0,1818.4)"><text class="lb" x="680" y="4.6">Serinibacter salmoneus DSM 21801</text><use href="#cb" x="979.3"/><use href="#sqbr" x="999"/><use href="#cp" x="1018.3"/><rect x="1030" y="-9.8" width="33" height="19.8" fill="#2f80c0"/><rect class="bar" x="1066.7" y="-8.5" width="30.7" height="17"/></g>
<g id="n56" transform="translate(0,1837.9)"><text class="lb" x="680" y="4.6">Georgenia soli DSM 21838</text><use href="#cb" x="979.3"/><use href="#sqbr" x="999"/><use href="#cbr" x="1018.3"/><rect x="1030" y="-9.8" width="33" height="19.8" fill="#3583c1"/><rect class="bar" x="1066.7" y="-8.5" width="40.3" height="17"/></g>
<g id="n57" transform="translate(0,1857.5)"><text class="lb" x="680" y="4.6">Ruania albidiflava DSM 18029</text><use href="#cb" x="979.3"/><use href="#sqbr" x="999"/><use href="#dr" x="1018.3"/><rect x="1030" y="-9.8" width="33" height="19.8" fill="#4a8fc6"/><rect class="bar" x="1066.7" y="-8.5" width="39.3" height="17"/></g>
<g id="n58" transform="translate(0,1877)"><text class="lb" x="680" y="4.6">Haloactinobacterium album DSM 21368</text><use href="#cb" x="979.3"/><use href="#sqbr" x="999"/><use href="#dr" x="1018.3"/><rect x="1030" y="-9.8" width="33" height="19.8" fill="#4a8fc6"/><rect class="bar" x="1066.7" y="-8.5" width="45.7" height="17"/></g>
<g id="n59" transform="translate(0,1896.5)"><text class="lb" x="680" y="4.6">Cellulomonas carbonis T26</text><use href="#cb" x="979.3"/><use href="#sqbr" x="999"/><use href="#sqg" x="1018.3"/><rect x="1030" y="-9.8" width="33" height="19.8" fill="#2a7dbe"/><rect class="bar" x="1066.7" y="-8.5" width="37.3" height="17"/></g>
<g id="n60" transform="translate(0,1916.1)"><text class="lb" x="680" y="4.6">Cellulomonas cellasea DSM 20118</text><use href="#cb" x="979.3"/><use href="#sqbr" x="999"/><use href="#sqg" x="1018.3"/><rect x="1030" y="-9.8" width="33" height="19.8" fill="#2f80c0"/><rect class="bar" x="1066.7" y="-8.5" width="36.7" height="17"/></g>
<g id="n61" transform="translate(0,1935.6)"><text class="lb" x="680" y="4.6">Cellulomonas marina CGMCC 4.6945</text><use href="#cb" x="979.3"/><use href="#sqbr" x="999"/><use href="#sqg" x="1018.3"/><rect x="1030" y="-9.8" width="33" height="19.8" fill="#2a7dbe"/><rect class="bar" x="1066.7" y="-8.5" width="37.3" height="17"/></g>
<g id="n62" transform="translate(0,1955.2)"><text class="lb" x="680" y="4.6">Cellulomonas flavigena DSM 20109</text><use href="#cb" x="979.3"/><use href="#sqbr" x="999"/><use href="#sqg" x="1018.3"/><rect x="1030" y="-9.8" width="33" height="19.8" fill="#2f80c0"/><rect class="bar" x="1066.7" y="-8.5" width="39" height="17"/></g>
<g id="n63" transform="translate(0,1974.7)"><text class="lb" x="680" y="4.6">Cellulomonas fimi ATCC 484</text><use href="#cb" x="979.3"/><use href="#sqbr" x="999"/><use href="#sqg" x="1018.3"/><rect x="1030" y="-9.8" width="33" height="19.8" fill="#2f80c0"/><rect class="bar" x="1066.7" y="-8.5" width="40" height="17"/></g>
<g id="n64" transform="translate(0,1994.2)"><text class="lb" x="680" y="4.6">Cellulomonas massiliensis JC225</text><use href="#cb" x="979.3"/><use href="#sqbr" x="999"/><use href="#sqg" x="1018.3"/><rect x="1030" y="-9.8" width="33" height="19.8" fill="#2f80c0"/><rect class="bar" x="1066.7" y="-8.5" width="30.7" height="17"/></g>
<g id="n65" transform="translate(0,2013.8)"><text class="lb" x="680" y="4.6">Sanguibacter marinus DSM 19083</text><use href="#cb" x="979.3"/><use href="#sqbr" x="999"/><use href="#do" x="1018.3"/><rect x="1030" y="-9.8" width="33" height="19.8" fill="#2f80c0"/><rect class="bar" x="1066.7" y="-8.5" width="27.3" height="17"/></g>
<g id="n66" transform="translate(0,2033.3)"><text class="lb" x="680" y="4.6">Sanguibacter soli DSM 21574</text><use href="#cb" x="979.3"/><use href="#sqbr" x="999"/><use href="#do" x="1018.3"/><rect x="1030" y="-9.8" width="33" height="19.8" fill="#3583c1"/><rect class="bar" x="1066.7" y="-8.5" width="27.3" height="17"/></g>
<g id="n67" transform="translate(0,2052.9)"><text class="lb" x="680" y="4.6">Sanguibacter antarcticus DSM 18966</text><use href="#cb" x="979.3"/><use href="#sqbr" x="999"/><use href="#do" x="1018.3"/><rect x="1030" y="-9.8" width="33" height="19.8" fill="#3d88c4"/><rect class="bar" x="1066.7" y="-8.5" width="33.3" height="17"/></g>
<g id="n68" transform="translate(0,2072.4)"><text class="lb" x="680" y="4.6">Sanguibacter suarezii NBRC 16159</text><use href="#cb" x="979.3"/><use href="#sqbr" x="999"/><use href="#do" x="1018.3"/><rect x="1030" y="-9.8" width="33" height="19.8" fill="#3d88c4"/><rect class="bar" x="1066.7" y="-8.5" width="36" height="17"/></g>
<g id="n69" transform="translate(0,2091.9)"><text class="lb" x="680" y="4.6">Sanguibacter keddieii DSM 10542</text><use href="#cb" x="979.3"/><use href="#sqbr" x="999"/><use href="#do" x="1018.3"/><rect x="1030" y="-9.8" width="33" height="19.8" fill="#2f80c0"/><rect class="bar" x="1066.7" y="-8.5" width="40" height="17"/></g>
<g id="n70" transform="translate(0,2111.5)"><text class="lb" x="680" y="4.6">Timonella senegalensis JC301</text><use href="#cb" x="979.3"/><use href="#sqbr" x="999"/><use href="#do" x="1018.3"/><rect x="1030" y="-9.8" width="33" height="19.8" fill="#a0c0da"/><rect class="bar" x="1066.7" y="-8.5" width="28" height="17"/></g>
<g id="n71" transform="translate(0,2131)"><text class="lb" x="680" y="4.6">Jonesia quinghaiensis DSM 15701</text><use href="#cb" x="979.3"/><use href="#sqbr" x="999"/><use href="#tly" x="1018.3"/><rect x="1030" y="-9.8" width="33" height="19.8" fill="#8fb4d5"/><rect class="bar" x="1066.7" y="-8.5" width="28.7" height="17"/></g>
<g id="n72" transform="translate(0,2150.6)"><text class="lb" x="680" y="4.6">Jonesia denitrificans DSM 20603</text><use href="#cb" x="979.3"/><use href="#sqbr" x="999"/><use href="#tly" x="1018.3"/><rect x="1030" y="-9.8" width="33" height="19.8" fill="#9cbdd9"/><rect class="bar" x="1066.7" y="-8.5" width="26" height="17"/></g>
<g id="n73" transform="translate(0,2170.1)"><text class="lb" x="680" y="4.6">Luteimicrobium subarcticum DSM 22413</text><use href="#cb" x="979.3"/><use href="#sqbr" x="999"/><use href="#hex" x="1018.3"/><rect x="1030" y="-9.8" width="33" height="19.8" fill="#2a7dbe"/><rect class="bar" x="1066.7" y="-8.5" width="34.3" height="17"/></g>
<g id="n74" transform="translate(0,2189.6)"><text class="lb" x="680" y="4.6">Promicromonospora kroppenstedtii DSM 19349</text><use href="#cb" x="979.3"/><use href="#sqbr" x="999"/><use href="#db" x="1018.3"/><rect x="1030" y="-9.8" width="33" height="19.8" fill="#3583c1"/><rect class="bar" x="1066.7" y="-8.5" width="53.3" height="17"/></g>
<g id="n75" transform="translate(0,2209.2)"><text class="lb" x="680" y="4.6">Promicromonospora umidemergens DSM 22081</text><use href="#cb" x="979.3"/><use href="#sqbr" x="999"/><use href="#db" x="1018.3"/><rect x="1030" y="-9.8" width="33" height="19.8" fill="#2f80c0"/><rect class="bar" x="1066.7" y="-8.5" width="62.3" height="17"/></g>
<g id="n76" transform="translate(0,2228.7)"><text class="lb" x="680" y="4.6">Promicromonospora thailandica DSM 26652</text><use href="#cb" x="979.3"/><use href="#sqbr" x="999"/><use href="#db" x="1018.3"/><rect x="1030" y="-9.8" width="33" height="19.8" fill="#3583c1"/><rect class="bar" x="1066.7" y="-8.5" width="50.7" height="17"/></g>
<g id="n77" transform="translate(0,2248.3)"><text class="lb" x="680" y="4.6">Xylanimicrobium pachnodae JCM 13526</text><use href="#cb" x="979.3"/><use href="#sqbr" x="999"/><use href="#db" x="1018.3"/><rect x="1030" y="-9.8" width="33" height="19.8" fill="#3583c1"/><rect class="bar" x="1066.7" y="-8.5" width="37.7" height="17"/></g>
<g id="n78" transform="translate(0,2267.8)"><text class="lb" x="680" y="4.6">Xylanimonas cellulosilytica DSM 15894</text><use href="#cb" x="979.3"/><use href="#sqbr" x="999"/><use href="#db" x="1018.3"/><rect x="1030" y="-9.8" width="33" height="19.8" fill="#3583c1"/><rect class="bar" x="1066.7" y="-8.5" width="36" height="17"/></g>
<g id="n79" transform="translate(0,2287.3)"><text class="lb" x="680" y="4.6">Krasilnikoviella flava DSM 21481</text><use href="#cb" x="979.3"/><use href="#sqbr" x="999"/><use href="#db" x="1018.3"/><rect x="1030" y="-9.8" width="33" height="19.8" fill="#2f80c0"/><rect class="bar" x="1066.7" y="-8.5" width="45.7" height="17"/></g>
<g id="n80" transform="translate(0,2306.9)"><text class="lb" x="680" y="4.6">Isoptericola jiangsuensis DSM 21863</text><use href="#cb" x="979.3"/><use href="#sqbr" x="999"/><use href="#db" x="1018.3"/><rect x="1030" y="-9.8" width="33" height="19.8" fill="#2f80c0"/><rect class="bar" x="1066.7" y="-8.5" width="38" height="17"/></g>
<g id="n81" transform="translate(0,2326.4)"><text class="lb" x="680" y="4.6">Isoptericola dokdonensis DS-3</text><use href="#cb" x="979.3"/><use href="#sqbr" x="999"/><use href="#db" x="1018.3"/><rect x="1030" y="-9.8" width="33" height="19.8" fill="#2f80c0"/><rect class="bar" x="1066.7" y="-8.5" width="36" height="17"/></g>
<g id="n82" transform="translate(0,2346)"><text class="lb" x="680" y="4.6">Paraoerskovia marina DSM 21750</text><use href="#cb" x="979.3"/><use href="#sqbr" x="999"/><use href="#sqg" x="1018.3"/><rect x="1030" y="-9.8" width="33" height="19.8" fill="#3583c1"/><rect class="bar" x="1066.7" y="-8.5" width="27.3" height="17"/></g>
<g id="n83" transform="translate(0,2365.5)"><text class="lb" x="680" y="4.6">Koreibacter algae DSM 22126</text><use href="#cb" x="979.3"/><use href="#sqbr" x="999"/><use href="#sqg" x="1018.3"/><rect x="1030" y="-9.8" width="33" height="19.8" fill="#4a8fc6"/><rect class="bar" x="1066.7" y="-8.5" width="28" height="17"/></g>
<g id="n84" transform="translate(0,2385)"><text class="lb" x="680" y="4.6">Oerskovia enterophila DSM 43852</text><use href="#cb" x="979.3"/><use href="#sqbr" x="999"/><use href="#sqg" x="1018.3"/><rect x="1030" y="-9.8" width="33" height="19.8" fill="#3583c1"/><rect class="bar" x="1066.7" y="-8.5" width="44" height="17"/></g>
<g id="n85" transform="translate(0,2404.6)"><text class="lb" x="680" y="4.6">Oerskovia turbata NRRL B-8019</text><use href="#cb" x="979.3"/><use href="#sqbr" x="999"/><use href="#sqg" x="1018.3"/><rect x="1030" y="-9.8" width="33" height="19.8" fill="#2f80c0"/><rect class="bar" x="1066.7" y="-8.5" width="38" height="17"/></g>
<g id="n86" transform="translate(0,2424.1)"><text class="lb" x="680" y="4.6">Oerskovia xanthineolytica LMG 16121</text><use href="#cb" x="979.3"/><use href="#sqbr" x="999"/><use href="#sqg" x="1018.3"/><rect x="1030" y="-9.8" width="33" height="19.8" fill="#2f80c0"/><rect class="bar" x="1066.7" y="-8.5" width="40.3" height="17"/></g>
<g id="n87" transform="translate(0,2443.7)"><text class="lb" x="680" y="4.6">Cellulosimicrobium cellulans DSM 43879</text><use href="#cb" x="979.3"/><use href="#sqbr" x="999"/><use href="#db" x="1018.3"/><rect x="1030" y="-9.8" width="33" height="19.8" fill="#2f80c0"/><rect class="bar" x="1066.7" y="-8.5" width="42.3" height="17"/></g>
<g id="n88" transform="translate(0,2463.2)"><text class="lb" x="680" y="4.6">Cellulosimicrobium aquatile 3bp</text><use href="#cb" x="979.3"/><use href="#sqbr" x="999"/><use href="#db" x="1018.3"/><rect x="1030" y="-9.8" width="33" height="19.8" fill="#2f80c0"/><rect class="bar" x="1066.7" y="-8.5" width="40.7" height="17"/></g>
<g id="n89" transform="translate(0,2482.7)"><text class="lb" x="680" y="4.6">Cellulosimicrobium funkei NBRC 104118</text><use href="#cb" x="979.3"/><use href="#sqbr" x="999"/><use href="#db" x="1018.3"/><rect x="1030" y="-9.8" width="33" height="19.6" fill="#2f80c0"/><rect class="bar" x="1066.7" y="-8.5" width="41" height="17"/></g>
</g>

<g id="separators">
<line class="sep" x1="1030" y1="30" x2="1030" y2="2492.5"/>
<line class="sep" x1="1063" y1="30" x2="1063" y2="2492.5"/>
</g>
</svg>
